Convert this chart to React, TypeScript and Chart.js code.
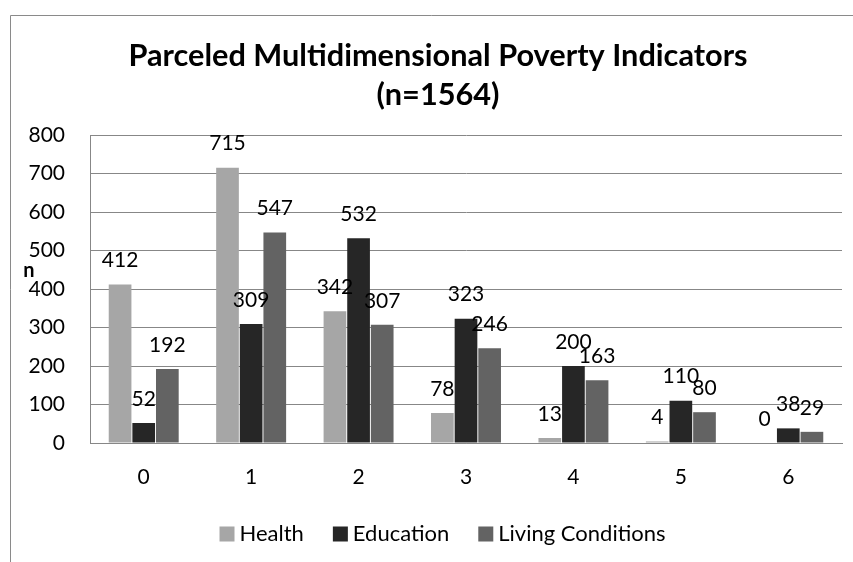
import React, { useEffect, useRef } from "react";
import { Chart, registerables } from "chart.js";

Chart.register(...registerables);

const categories = ["0", "1", "2", "3", "4", "5", "6"];
const health = [412, 715, 342, 78, 13, 4, 0];
const education = [52, 309, 532, 323, 200, 110, 38];
const living = [192, 547, 307, 246, 163, 80, 29];
const seriesNames = ["Health", "Education", "Living Conditions"];
const seriesColors = ["#a6a6a6", "#262626", "#636363"];
const titleLines = ["Parceled Multidimensional Poverty Indicators", "(n=1564)"];
const yTitle = "n";

const FONT = "Lato, 'Open Sans', sans-serif";
const GRID = "#878787";

const overlay = {
  id: "overlay",
  afterDraw(chart: any) {
    const ctx = chart.ctx as CanvasRenderingContext2D;
    ctx.save();
    // outer frame
    ctx.strokeStyle = "#8a8a8a";
    ctx.lineWidth = 1;
    ctx.beginPath();
    ctx.moveTo(10.5, 600);
    ctx.lineTo(10.5, 15.5);
    ctx.lineTo(853, 15.5);
    ctx.stroke();

    // title
    ctx.fillStyle = "#000";
    ctx.textAlign = "center";
    ctx.textBaseline = "middle";
    ctx.font = `bold 30.7px ${FONT}`;
    ctx.fillText(titleLines[0], 438, 56);
    ctx.fillText(titleLines[1], 438, 95);

    // y axis title
    ctx.font = `bold 20px ${FONT}`;
    ctx.fillText(yTitle, 29, 271);

    // data labels
    ctx.font = `21px ${FONT}`;
    chart.data.datasets.forEach((ds: any, i: number) => {
      const meta = chart.getDatasetMeta(i);
      meta.data.forEach((bar: any, j: number) => {
        ctx.fillText(String(ds.data[j]), bar.x, bar.y - 24);
      });
    });

    // legend
    ctx.font = `22px ${FONT}`;
    const box = 15;
    const gapBox = 5;
    const gapItem = 29;
    const widths = seriesNames.map((n) => ctx.measureText(n).width);
    const total =
      widths.reduce((a, b) => a + b, 0) + seriesNames.length * (box + gapBox) + gapItem * (seriesNames.length - 1);
    let x = 442.5 - total / 2;
    const ly = 534;
    ctx.textAlign = "left";
    seriesNames.forEach((n, i) => {
      ctx.fillStyle = seriesColors[i];
      ctx.fillRect(x, ly - box / 2, box, box);
      ctx.fillStyle = "#000";
      ctx.fillText(n, x + box + gapBox, ly);
      x += box + gapBox + widths[i] + gapItem;
    });
    ctx.restore();
  },
};

export default function App() {
  const ref = useRef<HTMLCanvasElement>(null);
  useEffect(() => {
    if (!ref.current) return;
    const series = [health, education, living];
    const chart = new Chart(ref.current, {
      type: "bar",
      data: {
        labels: categories,
        datasets: series.map((d, i) => ({
          label: seriesNames[i],
          data: d,
          backgroundColor: seriesColors[i],
          borderWidth: 0,
          categoryPercentage: 0.66,
          barPercentage: 0.96,
        })),
      },
      options: {
        responsive: false,
        animation: false,
        layout: { padding: { left: 10, top: 135, right: 11, bottom: 59 } },
        plugins: {
          legend: { display: false },
          title: { display: false },
          tooltip: { enabled: false },
        },
        scales: {
          x: {
            grid: { display: false, drawTicks: false },
            border: { display: true, color: GRID, width: 1 },
            ticks: { color: "#000", font: { family: FONT, size: 21 }, padding: 22 },
            afterFit: (s: any) => {
              s.height = 60;
            },
          },
          y: {
            min: 0,
            max: 800,
            grid: { color: GRID, drawTicks: false },
            border: { display: true, color: GRID, width: 1 },
            ticks: { stepSize: 100, color: "#000", font: { family: FONT, size: 21 }, padding: 25 },
            afterFit: (s: any) => {
              s.width = 80;
            },
          },
        },
      },
      plugins: [overlay],
    });
    return () => chart.destroy();
  }, []);
  return (
    <div style={{ position: "absolute", left: 0, top: 0, width: 853, height: 562, background: "#fff" }}>
      <canvas ref={ref} width={853} height={562} style={{ width: 853, height: 562 }} />
    </div>
  );
}
